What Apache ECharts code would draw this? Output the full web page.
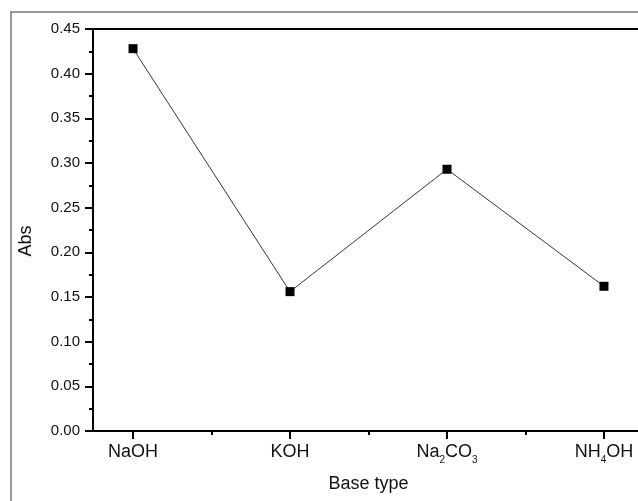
<!DOCTYPE html>
<html>
<head>
<meta charset="utf-8">
<script src="https://cdn.jsdelivr.net/npm/echarts@6/dist/echarts.min.js"></script>
<style>
  html, body { margin: 0; padding: 0; background: #fff; }
  #chart { width: 638px; height: 501px; }
</style>
</head>
<body>
<div id="chart"></div>
<script>
// base types (rich-text markup for subscripts) and absorbance
var categories = ['NaOH', 'KOH', 'Na{s|2}CO{s|3}', 'NH{s|4}OH']
var absValues = [0.428, 0.156, 0.293, 0.162]

var font = 'Liberation Sans, Arial, sans-serif'
var chart = echarts.init(document.getElementById('chart'))

var points = absValues.map(function (v, i) { return [i, v] })

chart.setOption({
  animation: false,
  graphic: [{
    type: 'rect',
    shape: { x: 11, y: 12, width: 1000, height: 1000 },
    style: { fill: 'none', stroke: '#777', lineWidth: 1.5 },
    silent: true
  }],
  grid: {
    left: 93,
    top: 29,
    width: 551,
    bottom: 70,
    outerBoundsMode: 'none',
    containLabel: false,
    show: true,
    borderColor: '#000',
    borderWidth: 2
  },
  xAxis: [{
    type: 'value',
    min: -0.255,
    max: 3.255,
    name: 'Base type',
    nameLocation: 'middle',
    nameGap: 44,
    nameTextStyle: { fontFamily: font, fontSize: 18, color: '#111' },
    axisLine: { show: true, onZero: false, lineStyle: { color: '#000', width: 2 } },
    axisTick: { show: true, customValues: [0, 1, 2, 3], length: 8, lineStyle: { color: '#000', width: 2 } },
    axisLabel: {
      customValues: [0, 1, 2, 3],
      margin: 8,
      fontFamily: font,
      fontSize: 18,
      lineHeight: 26,
      color: '#111',
      formatter: function (v) { return categories[Math.round(v)] },
      rich: {
        s: { fontFamily: font, fontSize: 10, color: '#111', verticalAlign: 'bottom' }
      }
    },
    splitLine: { show: false }
  }, {
    type: 'value',
    position: 'bottom',
    min: -0.255,
    max: 3.255,
    axisLine: { show: false, onZero: false },
    axisTick: { show: true, customValues: [0.5, 1.5, 2.5], length: 4, lineStyle: { color: '#000', width: 2 } },
    axisLabel: { show: false },
    splitLine: { show: false }
  }],
  yAxis: {
    type: 'value',
    min: 0,
    max: 0.45,
    interval: 0.05,
    name: 'Abs',
    nameLocation: 'middle',
    nameGap: 58,
    nameTextStyle: { fontFamily: font, fontSize: 18, color: '#111', padding: [0, 22, 0, 0] },
    axisLine: { show: true, onZero: false, lineStyle: { color: '#000', width: 2 } },
    axisTick: { show: true, length: 8, lineStyle: { color: '#000', width: 2 } },
    minorTick: { show: true, splitNumber: 2, length: 4, lineStyle: { color: '#000', width: 2 } },
    axisLabel: {
      margin: 13,
      fontFamily: font,
      fontSize: 15,
      color: '#111',
      formatter: function (v) { return v.toFixed(2) }
    },
    splitLine: { show: false }
  },
  series: [{
    type: 'line',
    xAxisIndex: 0,
    data: points,
    symbol: 'rect',
    symbolSize: 9,
    itemStyle: { color: '#000' },
    lineStyle: { color: '#333', width: 1 }
  }]
})
</script>
</body>
</html>
